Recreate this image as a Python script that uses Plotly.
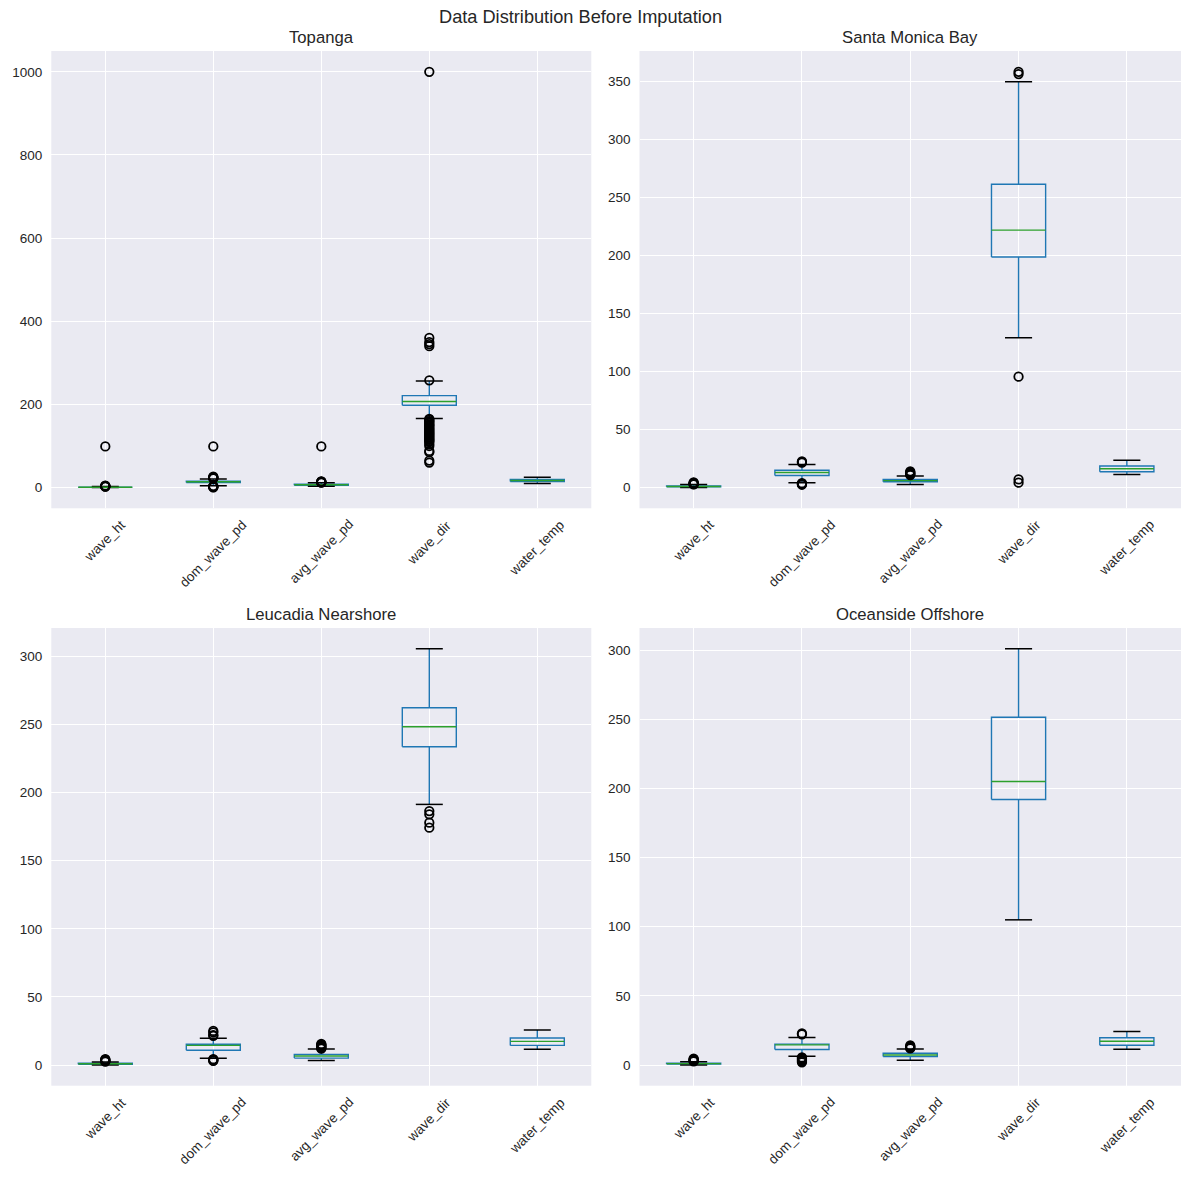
import plotly.graph_objects as go

# ---------------- data ----------------
categories = ["wave_ht", "dom_wave_pd", "avg_wave_pd", "wave_dir", "water_temp"]
stations = ["Topanga", "Santa Monica Bay", "Leucadia Nearshore", "Oceanside Offshore"]
suptitle = "Data Distribution Before Imputation"

# Topanga
topanga_lo = [0.1, 4.5, 3.0, 166, 10.0]
topanga_q1 = [0.6, 12.0, 5.5, 198, 14.5]
topanga_med = [0.9, 14.0, 6.8, 207, 17.0]
topanga_q3 = [1.3, 15.5, 8.0, 221, 19.5]
topanga_hi = [2.3, 20.5, 11.5, 256, 25.0]
topanga_out = [
    [2.5, 2.8, 3.1, 3.5, 4.0, 4.5, 99],
    [0.5, 1, 2, 3, 3.5, 22, 23, 24, 25, 26, 99],
    [12, 12.5, 13, 13.5, 14, 15, 99],
    [258, 340, 345, 350, 360, 1000,
     165, 163, 160, 158, 155, 152, 150, 148, 145, 142, 140, 137, 135, 132,
     130, 127, 125, 122, 120, 117, 115, 112, 110, 105, 100, 88, 85, 65, 60],
    [],
]

# Santa Monica Bay
smb_lo = [0.1, 4.3, 2.8, 129, 11.2]
smb_q1 = [0.7, 10.5, 5.1, 198.5, 13.7]
smb_med = [1.0, 13.0, 6.0, 221.7, 16.3]
smb_q3 = [1.5, 15.0, 7.1, 261.2, 18.6]
smb_hi = [2.6, 20.0, 10.0, 349.4, 23.5]
smb_out = [
    [2.8, 3.0, 3.3, 3.6, 4.0, 4.5],
    [2.5, 3.0, 3.4, 3.8, 21.5, 22.0, 22.5],
    [10.8, 11.4, 12.0, 12.6, 13.2, 14.0],
    [4.3, 7.1, 95.5, 356, 358],
    [],
]

# Leucadia Nearshore
leu_lo = [0.1, 4.9, 3.4, 191.3, 11.5]
leu_q1 = [0.6, 10.8, 5.1, 233.6, 14.4]
leu_med = [0.9, 14.4, 6.6, 248.3, 17.4]
leu_q3 = [1.3, 15.2, 7.8, 262.2, 19.8]
leu_hi = [2.3, 19.6, 11.7, 305.5, 25.7]
leu_out = [
    [2.5, 2.8, 3.2, 3.6, 4.0, 4.4],
    [3.0, 3.5, 3.9, 4.3, 21.5, 22.0, 24.0, 25.0],
    [12.0, 12.5, 13.0, 13.5, 14.0, 14.5, 15.0, 15.5],
    [174.2, 177.9, 184.0, 186.4],
    [],
]

# Oceanside Offshore
oce_lo = [0.1, 6.3, 3.4, 105, 11.4]
oce_q1 = [0.7, 11.2, 6.1, 192, 14.3]
oce_med = [1.0, 14.6, 7.3, 205, 17.2]
oce_q3 = [1.4, 15.1, 8.5, 251.5, 19.7]
oce_hi = [2.4, 19.9, 11.6, 301, 24.3]
oce_out = [
    [2.6, 3.0, 3.4, 3.8, 4.2, 4.6],
    [2.0, 2.8, 3.5, 4.2, 4.9, 5.5, 22.2, 22.8],
    [12.0, 12.5, 13.0, 13.5, 14.2],
    [],
    [],
]

station_stats = [
    (topanga_lo, topanga_q1, topanga_med, topanga_q3, topanga_hi, topanga_out),
    (smb_lo, smb_q1, smb_med, smb_q3, smb_hi, smb_out),
    (leu_lo, leu_q1, leu_med, leu_q3, leu_hi, leu_out),
    (oce_lo, oce_q1, oce_med, oce_q3, oce_hi, oce_out),
]

# ---------------- style / layout ----------------
BLUE = "#1f77b4"
GREEN = "#2ca02c"
BG = "#EAEAF2"
TXT = "#262626"
FONT = "Liberation Sans, Arial, sans-serif"
W, H = 1189, 1180
OFF = 8  # page body margin offset


def px_x(px):
    return (px - OFF) / W


def px_y(py):
    return 1 - (py - OFF) / H


x_domains = [[px_x(51.3), px_x(591.3)], [px_x(639.5), px_x(1181)]]
y_domains = [[px_y(508.3), px_y(51)], [px_y(1085.7), px_y(628)]]
y_dticks = [200, 50, 50, 50]
BOX_HALF = 0.25
CAP_HALF = 0.125

fig = go.Figure()
annotations = []

for k, (name, stats) in enumerate(zip(stations, station_stats)):
    lo, q1, med, q3, hi, outs = stats
    row, col = divmod(k, 2)
    suffix = "" if k == 0 else str(k + 1)
    xa, ya = "x" + suffix, "y" + suffix

    bx, by, mx, my, cx, cy, ox, oy = [], [], [], [], [], [], [], []
    for i in range(len(categories)):
        p = i + 1
        bx += [p - BOX_HALF, p + BOX_HALF, p + BOX_HALF, p - BOX_HALF, p - BOX_HALF, None]
        by += [q1[i], q1[i], q3[i], q3[i], q1[i], None]
        bx += [p, p, None, p, p, None]
        by += [q1[i], lo[i], None, q3[i], hi[i], None]
        cx += [p - CAP_HALF, p + CAP_HALF, None, p - CAP_HALF, p + CAP_HALF, None]
        cy += [lo[i], lo[i], None, hi[i], hi[i], None]
        mx += [p - BOX_HALF, p + BOX_HALF, None]
        my += [med[i], med[i], None]
        ox += [p] * len(outs[i])
        oy += list(outs[i])

    common = dict(xaxis=xa, yaxis=ya, showlegend=False, hoverinfo="skip")
    fig.add_trace(go.Scatter(x=bx, y=by, mode="lines", line=dict(color=BLUE, width=1.4), **common))
    fig.add_trace(go.Scatter(x=cx, y=cy, mode="lines", line=dict(color="black", width=1.5), **common))
    fig.add_trace(go.Scatter(x=mx, y=my, mode="lines", line=dict(color=GREEN, width=1.4), **common))
    fig.add_trace(go.Scatter(x=ox, y=oy, mode="markers",
                             marker=dict(symbol="circle-open", size=8.5, color="black",
                                         line=dict(width=1.8, color="black")), **common))

    all_vals = lo + hi + [v for o in outs for v in o]
    dmin, dmax = min(all_vals), max(all_vals)
    span = dmax - dmin
    yr = [dmin - 0.05 * span, dmax + 0.05 * span]

    fig.layout["xaxis" + suffix] = dict(
        domain=x_domains[col], anchor=ya, range=[0.5, len(categories) + 0.5],
        tickvals=list(range(1, len(categories) + 1)), ticktext=categories,
        showticklabels=False, showgrid=True, gridcolor="white", gridwidth=1.3,
        zeroline=False, showline=False, ticks="", fixedrange=True,
    )
    fig.layout["yaxis" + suffix] = dict(
        domain=y_domains[row], anchor=xa, range=yr, dtick=y_dticks[k], tick0=0,
        showgrid=True, gridcolor="white", gridwidth=1.3, zeroline=False,
        showline=False, ticks="", ticklabelstandoff=8,
        tickfont=dict(family=FONT, size=13.5, color=TXT),
    )

    annotations.append(dict(
        text=name, x=0.5, y=1, xref=xa + " domain", yref=ya + " domain",
        xanchor="center", yanchor="bottom", yshift=2, showarrow=False,
        font=dict(family=FONT, size=16.7, color=TXT),
    ))
    for i, c in enumerate(categories):
        annotations.append(dict(
            text=c, x=i + 1, y=0, xref=xa, yref=ya + " domain",
            xanchor="center", yanchor="top", yshift=-6, textangle=-45,
            showarrow=False, font=dict(family=FONT, size=13.5, color=TXT),
        ))

annotations.append(dict(
    text=suptitle, x=px_x(580.5), y=px_y(17), xref="paper", yref="paper",
    xanchor="center", yanchor="middle", showarrow=False,
    font=dict(family=FONT, size=18.2, color=TXT),
))

fig.update_layout(
    width=W, height=H, margin=dict(l=0, r=0, t=0, b=0),
    paper_bgcolor="white", plot_bgcolor=BG,
    annotations=annotations, font=dict(family=FONT, color=TXT),
)

fig.write_html("out.html")
